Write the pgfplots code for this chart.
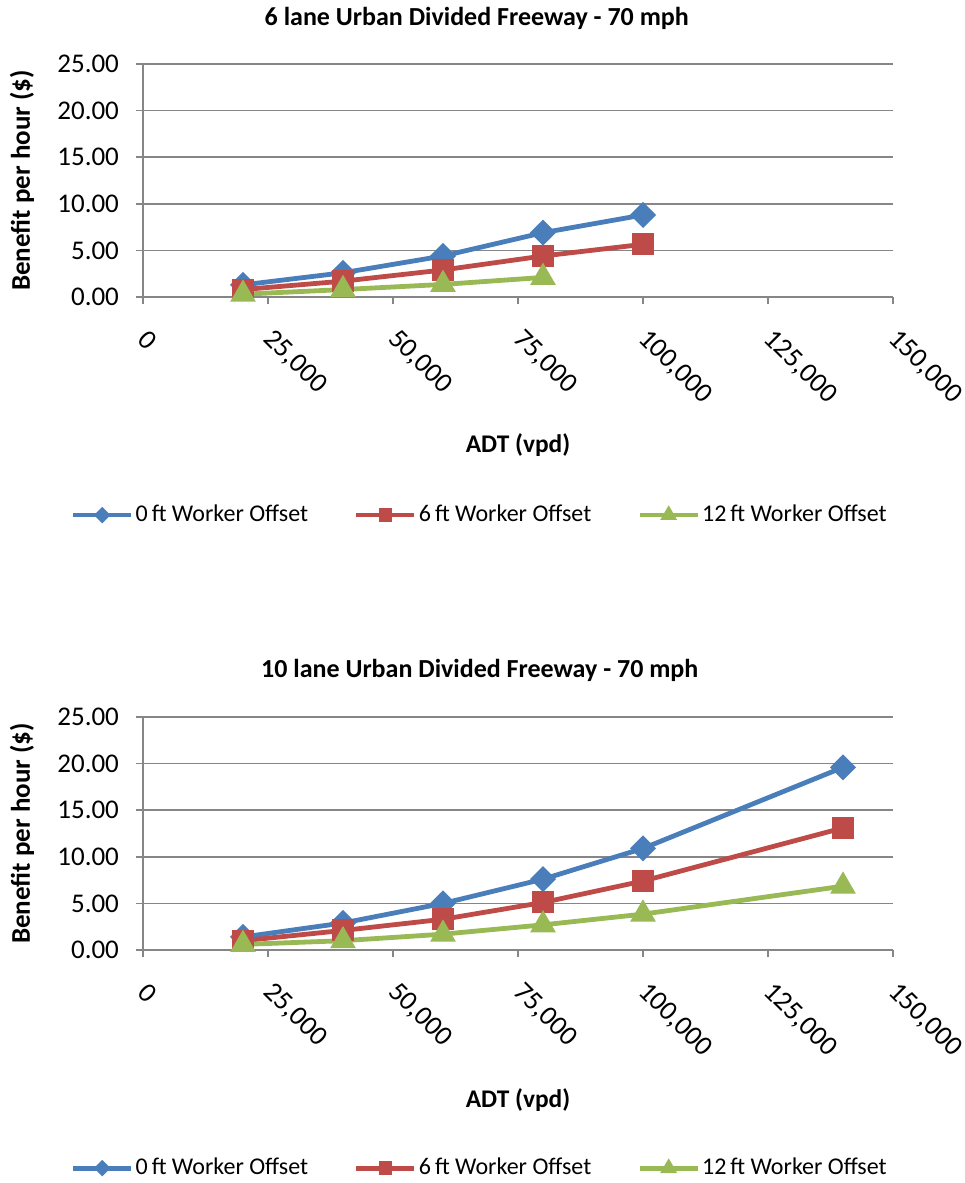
\documentclass[border=0pt]{standalone}
\usepackage{fontspec}
\setmainfont{Carlito}
\usepackage{pgfplots}
\pgfplotsset{compat=1.18}
\definecolor{sblue}{HTML}{4A7EBB}
\definecolor{sred}{HTML}{BE4B48}
\definecolor{sgreen}{HTML}{98B954}
\definecolor{gridgray}{HTML}{868686}
\pgfplotsset{
  every axis title shift=0pt,
  chartstyle/.style={
    scale only axis, width=375pt, height=116.5pt,
    xmin=0, xmax=150000, ymin=0, ymax=25,
    axis x line*=bottom, axis y line*=left,
    axis line style={-, gridgray, line width=0.8pt},
    xtick={0,25000,50000,75000,100000,125000,150000},
    ytick={0,5,10,15,20,25},
    tick align=outside, major tick length=3.5pt,
    tick style={gridgray, line width=0.8pt},
    ymajorgrids, major grid style={gridgray, line width=0.8pt},
    scaled x ticks=false,
    /pgf/number format/assume math mode=true,
    xticklabel style={font=\fontsize{13.8}{16}\selectfont, xshift=-2.5pt, yshift=-5pt,
      rotate=-45, anchor=west,
      /pgf/number format/fixed, /pgf/number format/1000 sep={,}},
    yticklabel style={font=\fontsize{13.5}{16}\selectfont, xshift=-5pt,
      /pgf/number format/fixed, /pgf/number format/fixed zerofill,
      /pgf/number format/precision=2},
    xticklabel shift=8pt,
    ylabel={Benefit per hour (\$)},
    ylabel style={at={(axis description cs:-0.1613,0.5)}, anchor=center, rotate=0,
      font=\bfseries\fontsize{13.5}{16}\selectfont},
    xlabel={ADT (vpd)},
    xlabel style={font=\bfseries\fontsize{12.7}{15}\selectfont, anchor=center},
    title style={anchor=center, font=\bfseries\fontsize{13}{15}\selectfont},
    legend columns=3,
    legend style={draw=none, anchor=center, font=\fontsize{12}{14}\selectfont,
      /tikz/every even column/.append style={column sep=22pt},
      nodes={inner sep=1pt}},
    legend cell align=left,
    legend image code/.code={
      \draw[##1, mark=none] (0pt,0pt) -- (29pt,0pt);
      \draw[##1, only marks, every mark/.append style={scale=0.5}] plot coordinates {(14.5pt,0pt)};
    },
    every axis plot/.append style={line width=2.4pt},
  },
  s0/.style={color=sblue, mark=square*, mark size=3.4pt, mark options={solid, rotate=45}},
  s6/.style={color=sred, mark=square*, mark size=4.3pt, mark options={solid}},
  s12/.style={color=sgreen, mark=triangle*, mark size=5pt, mark options={solid}},
}
\begin{document}
\begin{tikzpicture}
\path[use as bounding box] (0pt,0pt) rectangle (482pt,-591.5pt);
\begin{axis}[chartstyle, at={(71.5pt,-148.5pt)}, anchor=south west,
  title={6 lane Urban Divided Freeway - 70 mph},
  title style={at={(axis description cs:0.445,1.197)}},
  xlabel style={at={(axis description cs:0.5,-0.635)}},
  legend style={at={(axis description cs:0.449,-0.936)}}]
\addplot[s0] coordinates {(20000,1.3) (40000,2.6) (60000,4.4) (80000,6.9) (100000,8.8)};
\addplot[s6] coordinates {(20000,0.8) (40000,1.7) (60000,2.9) (80000,4.4) (100000,5.65)};
\addplot[s12] coordinates {(20000,0.3) (40000,0.8) (60000,1.35) (80000,2.1)};
\legend{0\,ft Worker Offset, 6\,ft Worker Offset, 12\,ft Worker Offset}
\end{axis}
\begin{axis}[chartstyle, at={(71.5pt,-475pt)}, anchor=south west,
  title={10 lane Urban Divided Freeway - 70 mph},
  title style={at={(axis description cs:0.449,1.202)}},
  xlabel style={at={(axis description cs:0.5,-0.644)}},
  legend style={at={(axis description cs:0.449,-0.936)}}]
\addplot[s0] coordinates {(20000,1.4) (40000,2.9) (60000,5.0) (80000,7.6) (100000,10.9) (140000,19.6)};
\addplot[s6] coordinates {(20000,1.0) (40000,2.1) (60000,3.3) (80000,5.1) (100000,7.4) (140000,13.1)};
\addplot[s12] coordinates {(20000,0.6) (40000,1.0) (60000,1.7) (80000,2.7) (100000,3.85) (140000,6.85)};
\legend{0\,ft Worker Offset, 6\,ft Worker Offset, 12\,ft Worker Offset}
\end{axis}
\end{tikzpicture}
\end{document}
